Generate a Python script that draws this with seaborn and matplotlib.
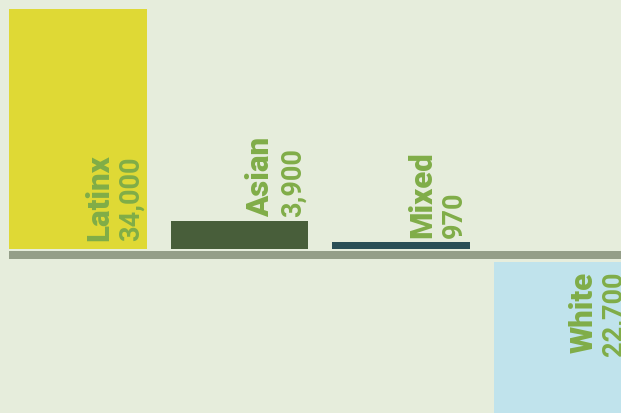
import matplotlib
matplotlib.use("Agg")
import matplotlib.pyplot as plt
import matplotlib.transforms as mtransforms
from matplotlib.patches import Rectangle
import seaborn as sns
import pandas as pd

# ---- data ----
categories = ["Latinx", "Asian", "Mixed", "White"]
values = [34000, 3900, 970, -22700]
colors = ["#dfd935", "#485e3a", "#2a4f56", "#c0e3ec"]

BG = "#e6eddc"
TXT = "#80ad48"
BASE = "#949e88"

sns.set_theme(style="white")
plt.rcParams["font.family"] = ["Roboto", "DejaVu Sans"]

W, H, DPI = 621, 414, 100
fig = plt.figure(figsize=(W / DPI, H / DPI), dpi=DPI)
fig.patch.set_facecolor(BG)

px_per_unit = 240 / 34000.0
zero_top = 250  # pixel row of zero line for positive bars
neg_top = 263   # pixel row where negative bars start

ax_top = fig.add_axes([0, (H - zero_top) / H, 1, zero_top / H])
ax_bot = fig.add_axes([0, 0, 1, (H - neg_top) / H])

df = pd.DataFrame({"cat": categories, "val": values})
pos = df[df.val > 0]
neg = df[df.val < 0]
pal = dict(zip(categories, colors))

xlim = (-78 / 161.5, (W - 78) / 161.5)
for ax, sub in ((ax_top, pos), (ax_bot, neg)):
    sns.barplot(data=sub, x="cat", y="val", hue="cat", order=categories,
                hue_order=categories, palette=pal, width=0.854, dodge=False,
                legend=False, ax=ax, saturation=1, linewidth=0)
    ax.set_xlim(*xlim)
    ax.set_facecolor("none")
    ax.axis("off")

ax_top.set_ylim(0, zero_top / px_per_unit)
ax_bot.set_ylim(-(H - neg_top) / px_per_unit, 0)

# baseline band
fig.add_artist(Rectangle((9 / W, (H - 260) / H), 1, 8 / H,
                         transform=fig.transFigure, color=BASE, lw=0))

def off(ax, dx, dy):
    return ax.transData + mtransforms.ScaledTranslation(dx / DPI, dy / DPI, fig.dpi_scale_trans)

fs_lab, fs_num = 22.5, 19.5
for i, (c, v) in enumerate(zip(categories, values)):
    num = f"{abs(v):,}"
    if v > 0:
        bar_px = v * px_per_unit
        if bar_px > 120:
            y0, dy = 0, 9
        else:
            y0, dy = v, 5
        ax_top.text(i, y0, c, transform=off(ax_top, 30, dy), rotation=90,
                    rotation_mode="anchor", ha="left", va="baseline",
                    color=TXT, fontsize=fs_lab, fontweight=900)
        ax_top.text(i, y0, num, transform=off(ax_top, 61, dy), rotation=90,
                    rotation_mode="anchor", ha="left", va="baseline",
                    color=TXT, fontsize=fs_num, fontweight="bold")
    else:
        ax_bot.text(i, 0, c, transform=off(ax_bot, 30, -9), rotation=90,
                    rotation_mode="anchor", ha="right", va="baseline",
                    color=TXT, fontsize=fs_lab, fontweight=900)
        ax_bot.text(i, 0, num, transform=off(ax_bot, 59, -9), rotation=90,
                    rotation_mode="anchor", ha="right", va="baseline",
                    color=TXT, fontsize=fs_num, fontweight="bold")

fig.savefig("out.png", dpi=DPI, facecolor=BG)
